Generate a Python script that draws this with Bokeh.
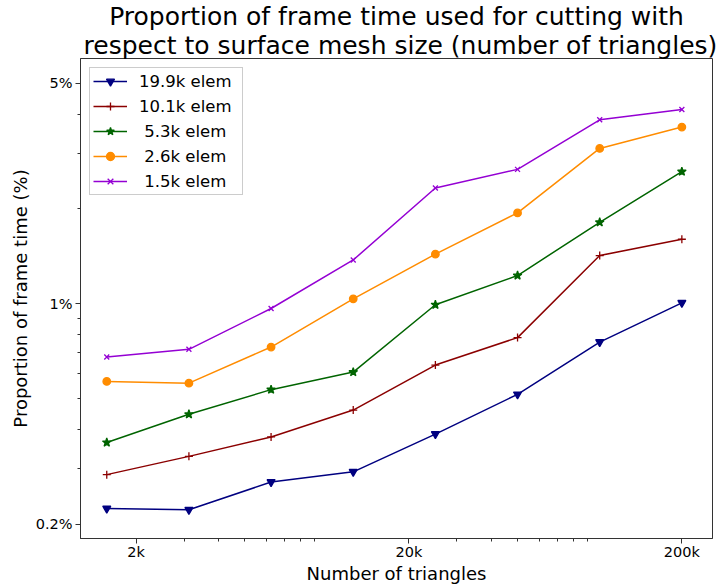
from bokeh.plotting import figure
from bokeh.models import FixedTicker, Range1d, CustomJSTickFormatter, Title
from bokeh.embed import file_html
from bokeh.resources import INLINE

triangles = [1562.5, 3125, 6250, 12500, 25000, 50000, 100000, 200000]

series_names = ["19.9k elem", "10.1k elem", "\u00a05.3k elem", "\u00a02.6k elem", "\u00a01.5k elem"]
elem_19_9k = [0.224, 0.222, 0.272, 0.293, 0.386, 0.516, 0.756, 1.007]
elem_10_1k = [0.287, 0.328, 0.378, 0.460, 0.639, 0.781, 1.422, 1.602]
elem_5_3k = [0.363, 0.446, 0.534, 0.607, 0.993, 1.229, 1.813, 2.625]
elem_2_6k = [0.567, 0.560, 0.729, 1.037, 1.437, 1.942, 3.111, 3.637]
elem_1_5k = [0.678, 0.717, 0.966, 1.377, 2.330, 2.669, 3.835, 4.134]
series_values = [elem_19_9k, elem_10_1k, elem_5_3k, elem_2_6k, elem_1_5k]

x_ticks = [2000, 20000, 200000]
x_minor = [3000, 4000, 5000, 6000, 7000, 8000, 9000,
           30000, 40000, 50000, 60000, 70000, 80000, 90000]
y_ticks = [0.2, 1, 5]
y_minor = [0.3, 0.4, 0.5, 0.6, 0.7, 0.8, 0.9, 2, 3, 4]

title_lines = ["Proportion of frame time used for cutting with",
               "\u00a0respect to surface mesh size (number of triangles)"]

colors = ["#000080", "#8b0000", "#006400", "#ff8c00", "#9400d3"]
markers = ["inverted_triangle", "cross", "star", "circle", "x"]
sizes = [8, 8, 9, 7.5, 7]

FONT = "DejaVu Sans"

p = figure(width=719, height=586, x_axis_type="log", y_axis_type="log",
           x_range=Range1d(1252, 259000), y_range=Range1d(0.18, 6.0),
           output_backend="svg", toolbar_location=None,
           min_border_left=80, min_border_right=7, min_border_top=50, min_border_bottom=46)

p.title.visible = False
for i, line in enumerate(reversed(title_lines)):
    t = Title(text=line, align="center", text_font=FONT, text_font_size="25px",
              text_font_style="normal", text_color="black", standoff=-2,
              offset=0)
    t.text_line_height = 1.0
    p.add_layout(t, "above")

for name, vals, c, m, s in zip(series_names, series_values, colors, markers, sizes):
    p.line(triangles, vals, line_color=c, line_width=1.5, legend_label=name)
    p.scatter(triangles, vals, marker=m, size=s, line_color=c, fill_color=c,
              line_width=1.3, legend_label=name)

p.xaxis.ticker = FixedTicker(ticks=x_ticks, minor_ticks=x_minor)
p.yaxis.ticker = FixedTicker(ticks=y_ticks, minor_ticks=y_minor)
p.xaxis.formatter = CustomJSTickFormatter(code="return (tick/1000) + 'k';")
p.yaxis.formatter = CustomJSTickFormatter(code="return tick + '%';")

for ax in [p.xaxis[0], p.yaxis[0]]:
    ax.major_label_text_font = FONT
    ax.major_label_text_font_size = "14.5px"
    ax.major_label_text_color = "black"
    ax.axis_label_text_font = FONT
    ax.axis_label_text_font_size = "18px"
    ax.axis_label_text_font_style = "normal"
    ax.axis_label_text_color = "black"
    ax.major_tick_out = 5
    ax.major_tick_in = 0
    ax.minor_tick_out = 3
    ax.minor_tick_in = 0
    ax.axis_line_color = "#333333"
    ax.major_tick_line_color = "#333333"
    ax.minor_tick_line_color = "#333333"
    ax.major_label_standoff = 0
    ax.axis_label_standoff = 0

p.yaxis.major_label_standoff = 3
p.yaxis.axis_label_standoff = 2

p.xaxis.axis_label = "Number of triangles"
p.yaxis.axis_label = "Proportion of frame time (%)"

p.xgrid.visible = False
p.ygrid.visible = False
p.outline_line_color = "#333333"
p.outline_line_width = 1

lg = p.legend[0]
lg.location = "top_left"
lg.label_text_font = FONT
lg.label_text_font_size = "16.5px"
lg.label_text_color = "black"
lg.border_line_color = "#cccccc"
lg.border_line_alpha = 1
lg.background_fill_alpha = 0.8
lg.margin = 9
lg.padding = 3
lg.spacing = 5
lg.glyph_width = 34
lg.glyph_height = 20
lg.label_height = 20
lg.label_width = 100
lg.label_standoff = 12

open("out.html", "w").write(file_html(p, INLINE))
